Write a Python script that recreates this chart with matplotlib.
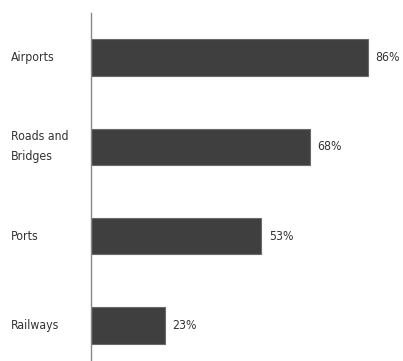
import matplotlib.pyplot as plt

categories = ["Airports", "Roads and\nBridges", "Ports", "Railways"]
values = [86, 68, 53, 23]

plt.rcParams['font.family'] = ['DejaVu Sans']
plt.rcParams['font.stretch'] = 'condensed'

fig = plt.figure(figsize=(4.03, 3.61), dpi=100)
ax = fig.add_axes([91 / 403, 0, (403 - 91) / 403, (361 - 13) / 361])

pos = list(range(len(values)))
ax.barh(pos, values, height=0.41, color='#3f3f3f', edgecolor='#6a6a6a', linewidth=0.8)

for p, v in zip(pos, values):
    ax.text(v + 2.3, p, f"{v}%", va='center', ha='left', fontsize=8.8, color='#333333')

for p, c in zip(pos, categories):
    ax.text(-25, p, c, va='center', ha='left', fontsize=8.8, color='#333333',
            linespacing=1.7)

ax.set_xlim(0, 97)
ax.set_ylim(3.4, -0.5)
ax.set_xticks([])
ax.set_yticks([])
for s in ['top', 'right', 'bottom']:
    ax.spines[s].set_visible(False)
ax.spines['left'].set_color('#888888')
ax.spines['left'].set_linewidth(1.0)

fig.savefig("out.png", dpi=100)
